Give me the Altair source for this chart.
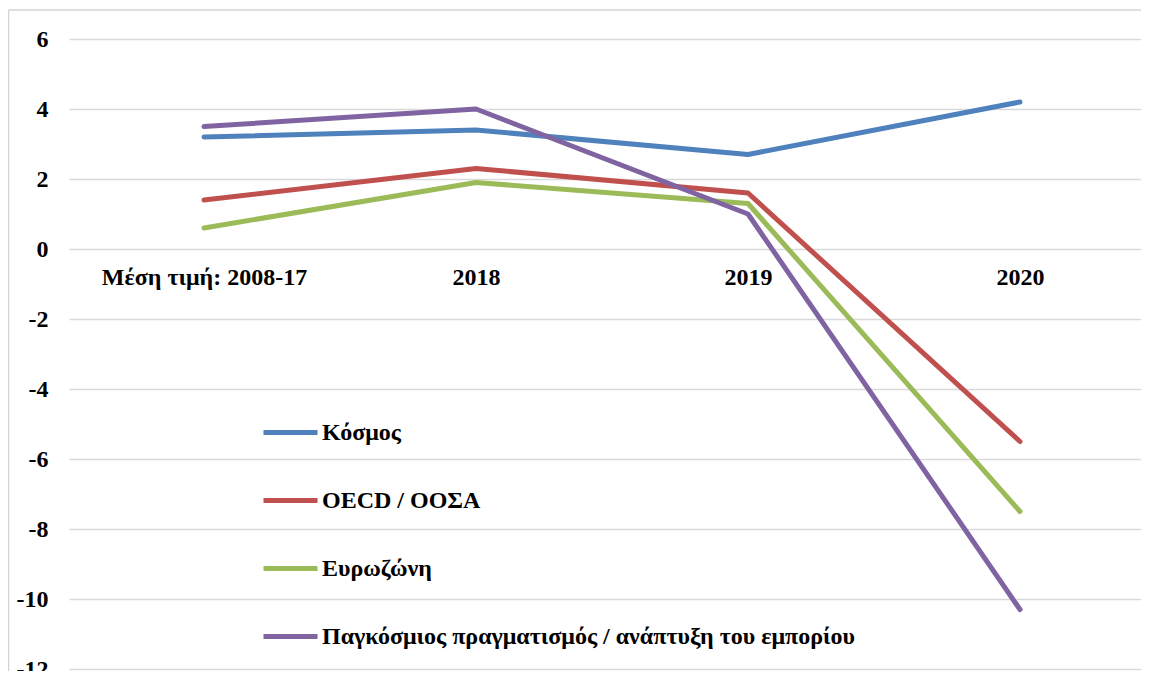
import altair as alt
import pandas as pd

categories = ["Μέση τιμή: 2008-17", "2018", "2019", "2020"]
series = ["Κόσμος", "OECD / ΟΟΣΑ", "Ευρωζώνη",
          "Παγκόσμιος πραγματισμός / ανάπτυξη του εμπορίου"]
kosmos = [3.2, 3.4, 2.7, 4.2]
oecd = [1.4, 2.3, 1.6, -5.5]
eurozone = [0.6, 1.9, 1.3, -7.5]
trade = [3.5, 4.0, 1.0, -10.3]
colors = ["#4f81bd", "#c0504d", "#9bbb59", "#8064a2"]
y_ticks = [-12, -10, -8, -6, -4, -2, 0, 2, 4, 6]

rows = []
for name, vals in zip(series, [kosmos, oecd, eurozone, trade]):
    for i, (c, v) in enumerate(zip(categories, vals)):
        rows.append({"cat": c, "series": name, "value": v, "cat_order": i})
df = pd.DataFrame(rows)

FONT = "Liberation Serif"

lines = alt.Chart(df).mark_line(strokeWidth=5, strokeCap="round", strokeJoin="round").encode(
    x=alt.X("cat:N", sort=categories,
            scale=alt.Scale(type="point", domain=categories, range=[0, 1086], padding=0.4963),
            axis=alt.Axis(title=None, orient="bottom", offset=-420, domain=False, ticks=False,
                          grid=False, labelAngle=0, labelFont=FONT, labelFontWeight="bold",
                          labelFontSize=24, labelColor="black", labelPadding=16,
                          labelBaseline="top", labelLimit=500, labelOverlap=False)),
    y=alt.Y("value:Q",
            scale=alt.Scale(domain=[-12, 6], nice=False, zero=False),
            axis=alt.Axis(title=None, values=y_ticks, domain=False, ticks=False,
                          grid=True, gridColor="#d9d9d9", gridWidth=1.5,
                          labelFont=FONT, labelFontWeight="bold", labelFontSize=24,
                          labelColor="black", labelPadding=21,
                          labelExpr="datum.value + ''")),
    color=alt.Color("series:N", sort=series,
                    scale=alt.Scale(domain=series, range=colors),
                    legend=alt.Legend(title=None, orient="none", legendX=192, legendY=364,
                                      direction="vertical", symbolType="stroke",
                                      symbolSize=2916, symbolStrokeWidth=5,
                                      labelFont=FONT, labelFontWeight="bold",
                                      labelFontSize=24, labelColor="black",
                                      rowPadding=26, labelOffset=2, labelLimit=900)),
    order=alt.Order("cat_order:Q"),
)

# chart frame (left and top edges), on its own independent unit scales
frame_df = pd.DataFrame({"x0": [0, 0], "x1": [0, 1], "y0": [0, 0], "y1": [1, 0]})
frame = alt.Chart(frame_df).mark_rule(color="#d4d4d4", strokeWidth=1.5).encode(
    x=alt.X("x0:Q", axis=None, scale=alt.Scale(domain=[0, 1], range=[-60.5, 1100], nice=False, zero=False)),
    x2="x1:Q",
    y=alt.Y("y0:Q", axis=None, scale=alt.Scale(domain=[0, 1], range=[-29, 700], nice=False, zero=False)),
    y2="y1:Q",
)

chart = alt.layer(lines, frame).resolve_scale(x="independent", y="independent").properties(
    width=1072, height=630,
    autosize=alt.AutoSizeParams(type="none"),
    padding={"left": 61, "top": 31, "right": 0, "bottom": 2},
    background="white",
).configure_view(stroke=None)

chart.save("out.html", embed_options={"renderer": "svg", "actions": False})
